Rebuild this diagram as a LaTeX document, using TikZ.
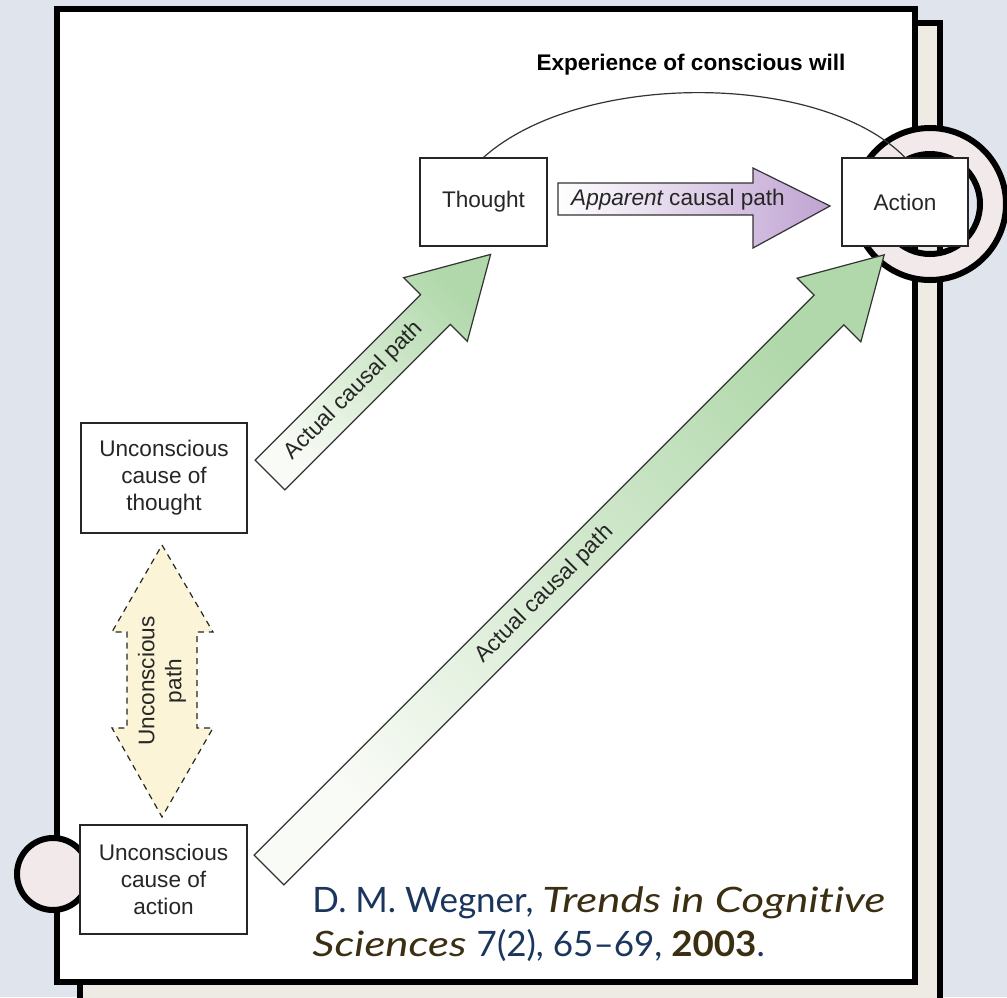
\documentclass[tikz,border=0pt]{standalone}
\usepackage{fontspec}
\setmainfont{Liberation Sans}
\newfontfamily\citefont[Ligatures=NoCommon, ItalicFeatures={FakeStretch=1.25}, BoldFeatures={FakeStretch=1.05}]{Lato}
\usetikzlibrary{calc}

\definecolor{pagebg}{HTML}{E0E4EC}
\definecolor{sheetbg}{HTML}{EEEBE5}
\definecolor{ringpink}{HTML}{F2E9EB}
\definecolor{leafgreen}{HTML}{B0D8AA}
\definecolor{paleleaf}{HTML}{F9FBF6}
\definecolor{lilac}{HTML}{BFA2D2}
\definecolor{cream}{HTML}{FBF4D6}
\definecolor{citeblue}{HTML}{1B365D}
\definecolor{citebrown}{HTML}{3B2F12}

\tikzset{
  box/.style={draw=black!85, line width=0.6pt, fill=white, align=center, inner sep=0pt,
    font=\fontsize{11.3}{13.5}\selectfont, text=black!85},
  pathtext/.style={align=center, inner sep=0pt, font=\fontsize{11.3}{13.5}\selectfont, text=black!85},
  frameline/.style={line width=3pt},
  fatarrow/.style={draw=black!80, line width=0.6pt, top color=leafgreen, bottom color=paleleaf, shading angle=-45}
}

\begin{document}
\begin{tikzpicture}[x=0.5pt, y=-0.5pt]
	\useasboundingbox (0,0) rectangle (1007,997);
	\fill[pagebg] (0,0) rectangle (1007,997);
	
	%hojas de fondo
	\draw[frameline, fill=sheetbg] (80,23) rectangle (940,1012);
	\draw[frameline, fill=white] (57,9) rectangle (915,982);
	
	%anillos
	\fill[ringpink, even odd rule] (930,204) circle (76) (930,204) circle (50);
	\draw[frameline] (930,204) circle (76) (930,204) circle (50);
	\filldraw[frameline, fill=ringpink] (53,874) circle (36);
	
	%cajas
	\node[box, minimum width=63.5pt, minimum height=44pt] (thought) at (483.5,202) {Thought};
	\node[box, minimum width=63pt, minimum height=44pt] (action) at (905,202) {Action};
	\node[box, minimum width=83pt, minimum height=55pt] (uthought) at (164,478) {Unconscious\\cause of\\thought};
	\node[box, minimum width=83.5pt, minimum height=54.5pt] (uaction) at (163.5,879.5) {Unconscious\\cause of\\action};
	
	%voluntad
	\node[pathtext, font=\bfseries\fontsize{11.3}{13.5}\selectfont, text=black] (will) at (691,65) {Experience of conscious will};
	\draw[line width=0.6pt, black!80] (thought.north) .. controls (580,71) and (820,71) .. (action.north);
	
	%camino aparente
	\shade[left color=white, right color=lilac, draw=black!80, line width=0.6pt] (558,183) -- (753,183) -- (753,168) -- (830,206) -- (753,248) -- (753,215) -- (558,215) -- cycle;
	\node[pathtext] (apparent) at (678,200) {\itshape Apparent\upshape{} causal path};
	
	%caminos reales
	\coordinate (tail1) at (270,475);
	\coordinate (tail2) at (269,870);
	\begin{scope}[shift={(tail1)}, rotate=45]
		\shade[fatarrow] (0,-21) -- (234,-21) -- (234,-45) -- (312,0) -- (234,45) -- (234,21) -- (0,21) -- cycle;
		\node[pathtext, rotate=45] (actual1) at (119,0) {Actual causal path};
	\end{scope}
	\begin{scope}[shift={(tail2)}, rotate=45]
		\shade[fatarrow] (0,-21) -- (792,-21) -- (792,-45) -- (870,0) -- (792,45) -- (792,21) -- (0,21) -- cycle;
		\node[pathtext, rotate=45] (actual2) at (390,0) {Actual causal path};
	\end{scope}
	
	%camino inconsciente
	\filldraw[fill=cream, draw=black!85, dash pattern=on 3pt off 2.5pt, line width=0.6pt] (162,545) -- (213,632) -- (197,632) -- (197,728) -- (213,728) -- (162,817) -- (112,728) -- (127,728) -- (127,632) -- (112,632) -- cycle;
	\node[pathtext, rotate=90] (upath) at (162,681) {Unconscious\\path};
	
	%cita
	\node[anchor=north west, align=left, inner sep=0pt, font=\citefont\fontsize{17.5}{22}\selectfont] (cite) at (312,886)
		{\color{citeblue}D. M. Wegner, \color{citebrown}\itshape Trends in Cognitive\\
		\color{citebrown}\itshape Sciences \upshape\color{citeblue}7(2), 65–69, \color{citebrown}\bfseries 2003\mdseries\color{citeblue}.};
\end{tikzpicture}
\end{document}
